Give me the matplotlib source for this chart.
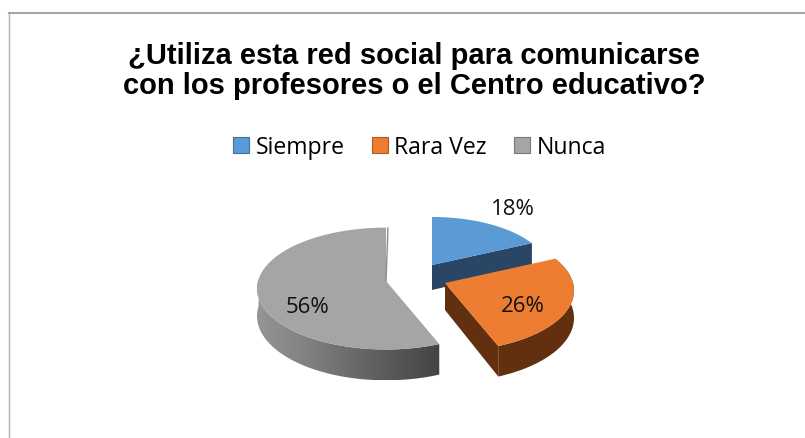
import numpy as np
import matplotlib
matplotlib.use('Agg')
import matplotlib.pyplot as plt
from matplotlib.patches import Patch, Polygon
from matplotlib.colors import LinearSegmentedColormap

# Data
categories = ['Siempre', 'Rara Vez', 'Nunca']
percentages = [18, 26, 56]
colors = ['#5b9bd5', '#ed7d31', '#a5a5a5']
title = '¿Utiliza esta red social para comunicarse\ncon los profesores o el Centro educativo?'


def project(theta, r, slice_pos):
    # flat pie -> screen, with a bit of perspective (front looks bigger)
    cx, cy, rx, ry, depth = slice_pos
    u = r * np.sin(theta)
    v = r * np.cos(theta)
    s = 1 / (1 + 0.124 * v)
    return cx + rx * u * s, cy - ry * v * s, depth * s


fig, ax = plt.subplots(figsize=(8.05, 4.39), dpi=100)
ax.set_position([0, 0, 1, 1])
ax.axis('off')

# Frame, only top and left show in the crop
ax.plot([9, 805], [14, 14], color='#a6a6a6', lw=1.5)
ax.plot([9, 9], [14, 439], color='#b0b0b0', lw=1)

ax.text(414, 71, title, ha='center', va='center', fontsize=21, fontweight='bold',
        family='Liberation Sans', linespacing=1.12, color='black')

# Slices: centre x, centre y, radius x, radius y, wall height
positions = [(432, 266, 116, 54, 25), (445, 284, 128, 60, 27), (386, 282, 128, 60, 27)]
wall_colors = ['#2a4665', '#63300f', None]
label_pos = [(513, 210), (523, 307), (307, 308)]

edges = np.cumsum([0] + percentages) / sum(percentages) * 2 * np.pi

for i in range(len(percentages)):
    pos = positions[i]
    th = np.linspace(edges[i], edges[i + 1], 120)
    x, y, d = project(th, 1.0, pos)
    x0, y0, d0 = project(np.array([0.0]), 0.0, pos)

    # straight cut face that looks at the viewer (blue and orange only)
    if i < 2:
        ax.fill([x0[0], x[-1], x[-1], x0[0]], [y0[0], y[-1], y[-1] + d[-1], y0[0] + d0[0]],
                color=wall_colors[i], lw=0, zorder=2 + i * 3)

    # round wall, only the part turned to the front
    keep = np.cos(th) < 0.45 if i < 2 else y > pos[1] - 3
    wall_x = np.r_[x[keep], x[keep][::-1]]
    wall_y = np.r_[y[keep], (y + d)[keep][::-1]]
    if wall_colors[i] is not None:
        ax.fill(wall_x, wall_y, color=wall_colors[i], lw=0, zorder=3 + i * 3)
    else:
        cmap = LinearSegmentedColormap.from_list('wall', ['#959595', '#7c7c7c', '#5e5e5e', '#444444'])
        im = ax.imshow(np.linspace(0, 1, 256).reshape(1, -1), cmap=cmap, aspect='auto',
                       extent=[wall_x.min(), wall_x.max(), wall_y.max(), wall_y.min()],
                       zorder=3 + i * 3)
        im.set_clip_path(Polygon(np.c_[wall_x, wall_y], transform=ax.transData))

    # top face
    ax.fill(np.r_[x0, x], np.r_[y0, y], color=colors[i], lw=0, zorder=4 + i * 3)

    ax.text(label_pos[i][0], label_pos[i][1], f'{percentages[i]}%', ha='center', va='center',
            fontsize=16, family='Open Sans', color='#111111', zorder=20)

ax.set_xlim(0, 805)
ax.set_ylim(439, 0)

# thin sliver next to the grey slice's top edge
ax.plot([388, 386], [229, 282], color='#8c8c8c', lw=1, zorder=11)

handles = [Patch(facecolor=c, edgecolor=e, lw=0.8) for c, e in
           zip(colors, ['#41719c', '#ae5a21', '#787878'])]
ax.legend(handles, categories, loc='center', bbox_to_anchor=(419.5 / 805, 1 - 148 / 439), ncol=3,
          frameon=False, prop={'family': 'Open Sans', 'size': 16.6}, handlelength=0.69,
          handleheight=0.69, handletextpad=0.3, columnspacing=1.17)

plt.savefig('out.png', dpi=100)
